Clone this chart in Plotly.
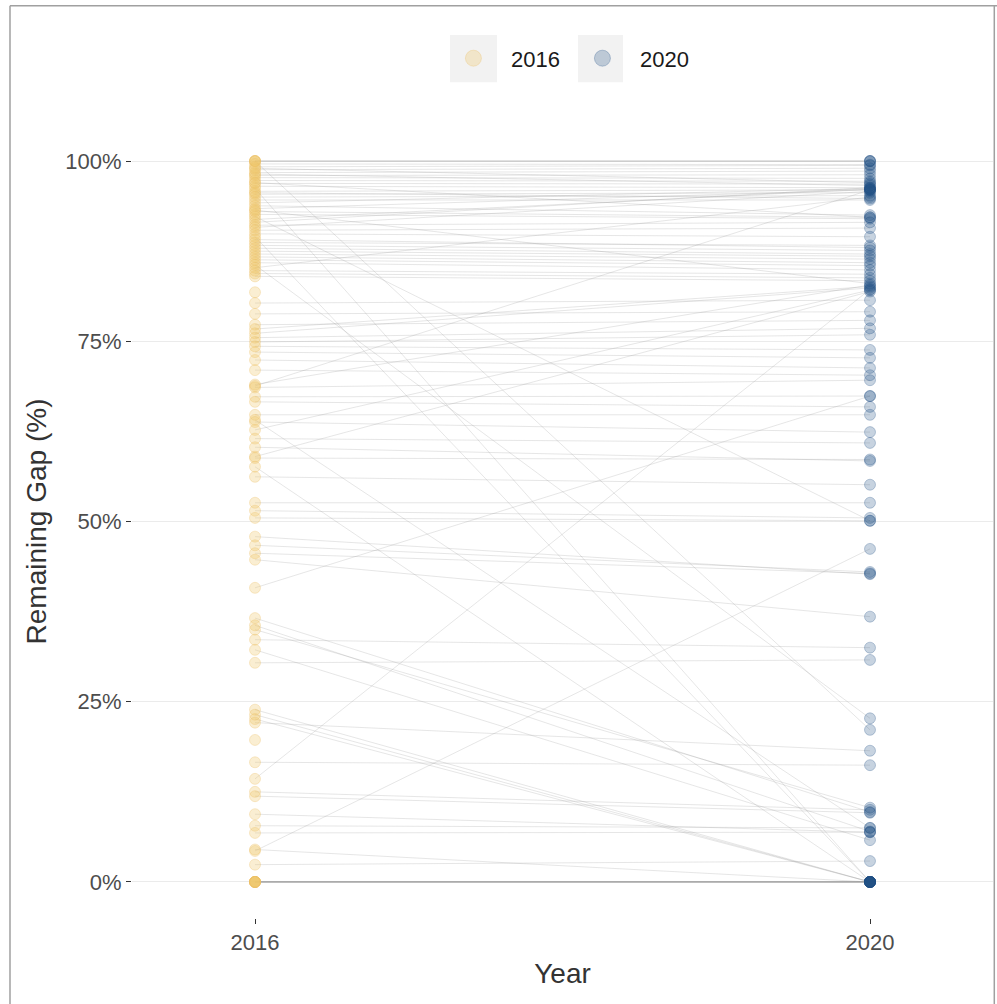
import plotly.graph_objects as go

# Remaining gap (%) per country in the two survey years; None = not reported that year
gap_2016 = [
    100, 100, 100, 99.6, 99.2, 98.8, 98.4, 98.0, 97.7, 97.3,
    96.9, 96.5, 96.2, 95.8, 95.4, 95.0, 94.6, 94.2, 93.8, 93.4,
    93.0, 92.6, 92.3, 91.9, 91.5, 91.1, 90.8, 90.4, 89.9, 89.5,
    89.1, 88.7, 88.3, 87.9, 87.5, 87.1, 86.7, 86.3, 85.9, 85.6,
    85.2, 84.8, 84.4, 84.0, 100, 97.0, 93.2, 99.0, 98.2, 95.6,
    81.8, 80.3, 78.8, 77.3, 76.7, 76.1, 75.5, 74.9, 74.3, 73.5,
    72.4, 71.0, 69.0, 68.8, 68.6, 67.3, 66.6, 64.8, 64.1, 63.8,
    62.7, 61.5, 60.3, 59.0, 58.8, 57.6, 56.2, 52.6, 51.5, 50.5,
    47.9, 46.7, 45.6, 44.7, 40.8, 36.6, 35.6, 35.0, 33.6, 32.2,
    30.4, 23.9, 23.2, 22.6, 22.1, 19.7, 16.6, 14.3, 12.5, 11.9,
    9.4, 7.8, 6.8, 4.3, 4.5, 2.4, 0, 0, 0, 0,
    0, 0, 0, 0,
]
gap_2020 = [
    100, 100, 100, 99.5, 99.4, 99.0, 98.6, 98.1, 97.6, 97.2,
    96.8, 96.3, 0, 96.0, 95.6, 95.2, 94.6, 96.2, 92.5, 96.0,
    92.2, 92.0, 50.1, 96.1, 96.3, 91.5, 95.8, 90.7, 89.5, 0,
    88.0, 88.3, 87.6, 87.1, 86.8, 86.4, 85.9, 85.5, 84.9, 22.7,
    95.0, 84.3, 83.8, 83.4, 21.1, 92.2, 83.0, 97.0, 96.6, 94.8,
    None, 80.7, 79.1, 77.9, 82.6, 82.4, 76.8, 75.9, 73.8, 72.7,
    71.3, 70.3, 82.8, 96.0, 69.6, 67.4, 65.9, 64.8, 7.5, 62.4,
    82.1, 60.9, 58.4, 81.9, 58.6, 0, 55.1, 52.6, 50.5, 50.1,
    42.7, 43.0, 42.8, 36.8, 67.4, 9.7, 7.0, 10.3, 32.5, 5.8,
    30.8, 0, 0, 0, 18.2, None, 16.2, 82.2, 10.0, 9.6,
    6.9, 7.5, 6.9, 46.2, 0, 2.9, 0, 0, 0, 0,
    0, 0, 0, 0,
]

years = [2016, 2020]
year_colors = {2016: "rgba(240,200,105,0.30)", 2020: "rgba(31,78,133,0.25)"}
year_edges = {2016: "rgba(235,190,95,0.30)", 2020: "rgba(31,78,133,0.28)"}
pct_ticks = [0, 25, 50, 75, 100]

fig = go.Figure()

# connecting segments, one per country so overlaps darken
for a, b in zip(gap_2016, gap_2020):
    if a is None or b is None:
        continue
    fig.add_trace(go.Scatter(
        x=years, y=[a, b], mode="lines",
        line=dict(color="rgba(140,140,140,0.22)", width=1),
        hoverinfo="skip", showlegend=False,
    ))

# points for each year
for yr, vals in ((2016, gap_2016), (2020, gap_2020)):
    ys = [v for v in vals if v is not None]
    fig.add_trace(go.Scatter(
        x=[yr] * len(ys), y=ys, mode="markers", name=str(yr),
        marker=dict(size=11, color=year_colors[yr],
                    line=dict(color=year_edges[yr], width=1)),
        showlegend=False,
    ))
    # legend entry with a larger key symbol
    fig.add_trace(go.Scatter(
        x=[None], y=[None], mode="markers", name=str(yr),
        marker=dict(size=16, color=year_colors[yr],
                    line=dict(color=year_edges[yr], width=1)),
        showlegend=True,
    ))

font_family = "Liberation Sans, Arial, sans-serif"

# grey key backgrounds behind the legend symbols and the outer frame
shapes = [
    dict(type="rect", xref="paper", yref="paper", x0=0.3693, x1=0.4239,
         y0=1.054, y1=1.1135, fillcolor="#F2F2F2", line=dict(width=0), layer="below"),
    dict(type="rect", xref="paper", yref="paper", x0=0.5180, x1=0.5703,
         y0=1.054, y1=1.1135, fillcolor="#F2F2F2", line=dict(width=0), layer="below"),
    dict(type="line", xref="paper", yref="paper", x0=-0.1417, x1=-0.1417,
         y0=-0.2, y1=1.1505, line=dict(color="#A0A0A0", width=1.5)),
    dict(type="line", xref="paper", yref="paper", x0=-0.1417, x1=1.01,
         y0=1.1505, y1=1.1505, line=dict(color="#A0A0A0", width=1.5)),
    dict(type="line", xref="paper", yref="paper", x0=1.0015, x1=1.0015,
         y0=-0.2, y1=1.1505, line=dict(color="#A0A0A0", width=1.5)),
]

fig.update_layout(
    width=997, height=1004,
    margin=dict(l=132, r=4, t=125, b=86),
    paper_bgcolor="white", plot_bgcolor="white",
    font=dict(family=font_family, size=22, color="#4D4D4D"),
    showlegend=True,
    legend=dict(orientation="h", x=0.3530, xanchor="left", y=1.084, yanchor="middle",
                font=dict(size=22, color="#1A1A1A"), itemwidth=65,
                entrywidth=49, bgcolor="rgba(0,0,0,0)", itemclick=False),
    shapes=shapes,
    xaxis=dict(
        range=[2015.2, 2020.8], tickvals=years, ticktext=[str(y) for y in years],
        showgrid=False, zeroline=False, showline=False,
        ticks="outside", ticklen=5, tickwidth=1, tickcolor="#333333",
        tickfont=dict(size=22, color="#4D4D4D"),
        title=dict(text="Year", font=dict(size=28, color="#333333"), standoff=8),
    ),
    yaxis=dict(
        range=[-5, 105], tickvals=pct_ticks, ticktext=[f"{t}%" for t in pct_ticks],
        showgrid=True, gridcolor="#EBEBEB", gridwidth=1, zeroline=False, showline=False,
        ticks="outside", ticklen=5, tickwidth=1, tickcolor="#333333",
        tickfont=dict(size=22, color="#4D4D4D"),
        title=dict(text="Remaining Gap (%)", font=dict(size=28, color="#333333"), standoff=10),
    ),
)

fig.write_html("out.html")
